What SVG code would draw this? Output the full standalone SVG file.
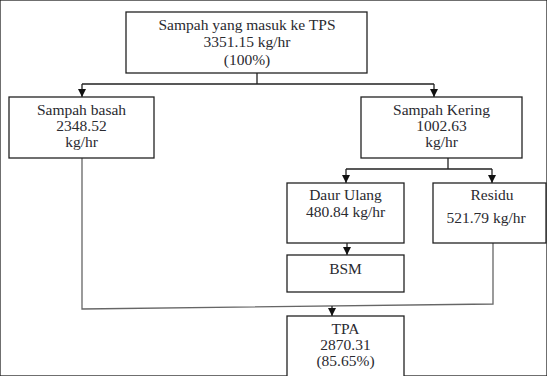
<svg xmlns="http://www.w3.org/2000/svg" width="547" height="376" viewBox="0 0 547 376">
<defs>
<marker id="arr" markerUnits="userSpaceOnUse" markerWidth="10" markerHeight="10" viewBox="0 0 10 10" refX="9" refY="5" orient="auto">
<path d="M1,1 L9,5 L1,9 Z" fill="#111"/>
</marker>
</defs>
<style>
rect{fill:#fff;stroke:#222;stroke-width:1.3}
text{font-family:"Liberation Serif","Times New Roman",serif;font-size:15.5px;fill:#2a2a30;text-anchor:middle}
.c{fill:none;stroke:#222;stroke-width:1.3}
.g{fill:none;stroke:#666;stroke-width:1.3}
</style>
<rect width="547" height="376" fill="#fff" stroke="none"/>
<g id="connectors">
<path class="c" d="M257,73 V84 M82,84 H434"/>
<path class="c" d="M82,84 V97" marker-end="url(#arr)"/>
<path class="c" d="M434,84 V97" marker-end="url(#arr)"/>
<path class="c" d="M448,158 V169 M346,169 H492"/>
<path class="c" d="M346,169 V183" marker-end="url(#arr)"/>
<path class="c" d="M492,169 V183" marker-end="url(#arr)"/>
<path class="c" d="M347,243 V255" marker-end="url(#arr)"/>
<path class="g" d="M82,158 V309 L493,304 V243"/>
<path class="c" d="M332,306 V316" marker-end="url(#arr)"/>
</g>
<g id="tps">
<rect x="126" y="12" width="241" height="61"/>
<text x="247" y="30">Sampah yang masuk ke TPS</text>
<text x="247" y="47">3351.15 kg/hr</text>
<text x="247" y="65">(100%)</text>
</g>
<g id="basah">
<rect x="9" y="97" width="145" height="61"/>
<text x="81.5" y="115">Sampah basah</text>
<text x="81.5" y="131">2348.52</text>
<text x="81.5" y="147">kg/hr</text>
</g>
<g id="kering">
<rect x="361" y="97" width="161" height="61"/>
<text x="441.5" y="115">Sampah Kering</text>
<text x="441.5" y="131">1002.63</text>
<text x="441.5" y="147">kg/hr</text>
</g>
<g id="daur">
<rect x="287" y="183" width="117" height="60"/>
<text x="345.5" y="200">Daur Ulang</text>
<text x="345.5" y="217">480.84 kg/hr</text>
</g>
<g id="residu">
<rect x="433" y="183" width="113" height="60"/>
<text x="492" y="200">Residu</text>
<text x="486" y="223">521.79 kg/hr</text>
</g>
<g id="bsm">
<rect x="287" y="255" width="117" height="37"/>
<text x="345.5" y="274">BSM</text>
</g>
<g id="tpa">
<rect x="287" y="316" width="117" height="70"/>
<text x="345.5" y="334">TPA</text>
<text x="345.5" y="350">2870.31</text>
<text x="345.5" y="366">(85.65%)</text>
</g>
</svg>
